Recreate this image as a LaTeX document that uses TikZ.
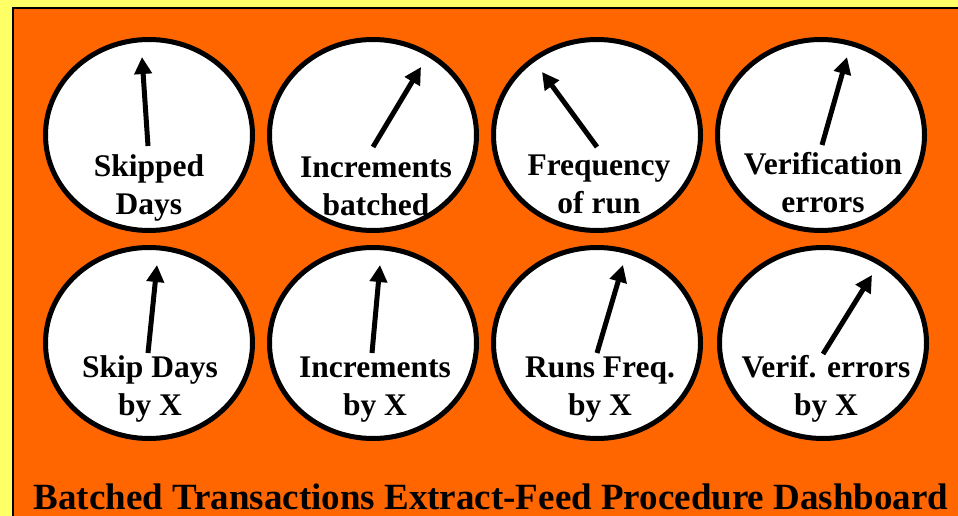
\documentclass[tikz,border=0pt]{standalone}
\usepackage{fontspec}
\setmainfont{Liberation Serif}
\usetikzlibrary{arrows.meta, shapes.geometric}
\definecolor{panelorange}{HTML}{FF6600}
\definecolor{frameyellow}{HTML}{FFFF66}
\tikzset{
  gauge/.style={ellipse, draw=black, line width=5pt, fill=white,
    minimum width=207pt, minimum height=191pt, inner sep=0pt},
  needle/.style={-{Triangle[length=17pt, width=17pt]}, line width=5pt, color=black},
  gaugelabel/.style={align=center, anchor=base, inner sep=0pt,
    font=\bfseries\fontsize{31.5}{37.5}\selectfont},
  every node/.append style={text=black}
}

\begin{document}
\begin{tikzpicture}[x=1pt, y=-1pt]
\useasboundingbox (0,0) rectangle (958,516);
\clip (0,0) rectangle (958,516);
% frame and panel
\fill[frameyellow] (0,0) rectangle (958,516);
\filldraw[fill=panelorange, draw=black, line width=2pt] (13,8) rectangle (975,530);

% top row of dials
\node[gauge] (skipped) at (149,135) {};
\node[gauge] (increments) at (373,135) {};
\node[gauge] (frequency) at (597,135) {};
\node[gauge] (verification) at (821,135) {};
% bottom row, split by X
\node[gauge] (skipX) at (149,343) {};
\node[gauge] (incX) at (373,343) {};
\node[gauge] (runsX) at (597,343) {};
\node[gauge] (verifX) at (823,343) {};

% needle ends
\coordinate (skipped tail) at (148,146);
\coordinate (skipped tip) at (142,57);
\coordinate (increments tail) at (373,147);
\coordinate (increments tip) at (421,67);
\coordinate (frequency tail) at (597,147);
\coordinate (frequency tip) at (542,72);
\coordinate (verification tail) at (822,145);
\coordinate (verification tip) at (847,57);
\coordinate (skipX tail) at (148,353);
\coordinate (skipX tip) at (157,265);
\coordinate (incX tail) at (372,353);
\coordinate (incX tip) at (380,265);
\coordinate (runsX tail) at (597,353);
\coordinate (runsX tip) at (623,265);
\coordinate (verifX tail) at (823,354);
\coordinate (verifX tip) at (872,275);

\draw[needle] (skipped tail) -- (skipped tip);
\draw[needle] (increments tail) -- (increments tip);
\draw[needle] (frequency tail) -- (frequency tip);
\draw[needle] (verification tail) -- (verification tip);
\draw[needle] (skipX tail) -- (skipX tip);
\draw[needle] (incX tail) -- (incX tip);
\draw[needle] (runsX tail) -- (runsX tip);
\draw[needle] (verifX tail) -- (verifX tip);

% dial captions (base = last line)
\node[gaugelabel] (skipped label) at (149,214) {Skipped\\Days};
\node[gaugelabel] (increments label) at (376,215) {Increments\\batched};
\node[gaugelabel] (frequency label) at (599,213) {Frequency\\of run};
\node[gaugelabel] (verification label) at (823,212) {Verification\\errors};
\node[gaugelabel] (skipX label) at (150,415) {Skip Days\\by X};
\node[gaugelabel] (incX label) at (375,415) {Increments\\by X};
\node[gaugelabel] (runsX label) at (600,415) {Runs Freq.\\by X};
\node[gaugelabel] (verifX label) at (826,415) {Verif. errors\\by X};

\node[anchor=base, inner sep=0pt, font=\bfseries\fontsize{37}{44}\selectfont]
  (title) at (491,509) {Batched Transactions Extract-Feed Procedure Dashboard};
\end{tikzpicture}
\end{document}
